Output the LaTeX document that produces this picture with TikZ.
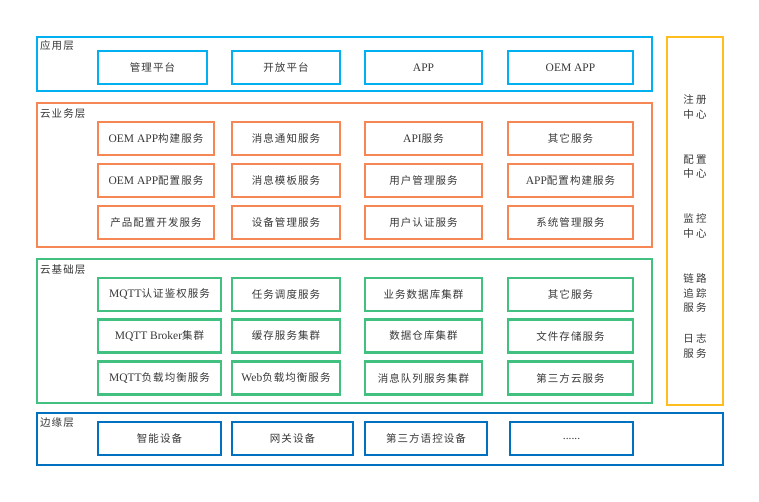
\documentclass[tikz,border=0pt]{standalone}
\usepackage{fontspec}
\setmainfont{Liberation Serif}
\newfontfamily\cjk[LetterSpace=10]{Noto Sans CJK SC}
\newfontfamily\cjkwide[LetterSpace=22]{Noto Sans CJK SC}
\usepackage{xcolor}
\usepackage{tikz}
\usetikzlibrary{positioning}
\definecolor{appblue}{RGB}{0,176,240}
\definecolor{bizorange}{RGB}{246,134,84}
\definecolor{basegreen}{RGB}{66,192,128}
\definecolor{edgeblue}{RGB}{0,112,192}
\definecolor{sidegold}{RGB}{255,190,30}
\definecolor{txtgray}{RGB}{55,55,55}
\newcommand\en[1]{{\rmfamily\fontsize{11.5}{13}\selectfont #1}}

\begin{document}
\begin{tikzpicture}[
  x=1pt,y=-1pt,
  layer/.style={draw=#1,line width=2.4pt,anchor=north west,inner sep=0pt},
  box/.style={draw=#1,line width=2.4pt,minimum height=33pt,inner sep=0pt,
    text=txtgray,font=\cjk\fontsize{10.5}{12}\selectfont},
  lbl/.style={anchor=west,inner sep=0pt,text=txtgray,font=\cjk\fontsize{10.5}{12}\selectfont},
  side/.style={align=center,inner sep=0pt,text=txtgray,font=\cjkwide\fontsize{10.5}{14.5}\selectfont}
]
\useasboundingbox (0,0) rectangle (759,501);

% layers
\node[layer=appblue,minimum width=615pt,minimum height=54pt] (app) at (36,36) {};
\node[layer=bizorange,minimum width=615pt,minimum height=144pt] (biz) at (36,102) {};
\node[layer=basegreen,minimum width=615pt,minimum height=144pt] (base) at (36,258) {};
\node[layer=edgeblue,minimum width=686pt,minimum height=52pt] (edge) at (36,412) {};
\node[layer=sidegold,minimum width=56pt,minimum height=368pt] (side) at (666,36) {};

\node[lbl] (applbl) at (40,46) {应用层};
\node[lbl] (bizlbl) at (40,114) {云业务层};
\node[lbl] (baselbl) at (40,270) {云基础层};
\node[lbl] (edgelbl) at (40,423) {边缘层};

% application layer
\node[box=appblue,minimum width=109pt] (mgmt) at (152.5,67.5) {管理平台};
\node[box=appblue,minimum width=108pt] (open) at (286,67.5) {开放平台};
\node[box=appblue,minimum width=117pt] (appl) at (423.5,67.5) {\en{APP}};
\node[box=appblue,minimum width=125pt] (oemapp) at (570.5,67.5) {\en{OEM APP}};

% cloud business layer
\node[box=bizorange,minimum width=116pt] (oembuild) at (156,138.5) {\en{OEM APP}构建服务};
\node[box=bizorange,minimum width=108pt] (msgnotify) at (286,138.5) {消息通知服务};
\node[box=bizorange,minimum width=117pt] (api) at (423.5,138.5) {\en{API}服务};
\node[box=bizorange,minimum width=125pt] (bizother) at (570.5,138.5) {其它服务};
\node[box=bizorange,minimum width=116pt] (oemconf) at (156,180.5) {\en{OEM APP}配置服务};
\node[box=bizorange,minimum width=108pt] (msgtpl) at (286,180.5) {消息模板服务};
\node[box=bizorange,minimum width=117pt] (usermgmt) at (423.5,180.5) {用户管理服务};
\node[box=bizorange,minimum width=125pt] (appconf) at (570.5,180.5) {\en{APP}配置构建服务};
\node[box=bizorange,minimum width=116pt] (prodconf) at (156,222.5) {产品配置开发服务};
\node[box=bizorange,minimum width=108pt] (devmgmt) at (286,222.5) {设备管理服务};
\node[box=bizorange,minimum width=117pt] (userauth) at (423.5,222.5) {用户认证服务};
\node[box=bizorange,minimum width=125pt] (sysmgmt) at (570.5,222.5) {系统管理服务};

% cloud base layer
\node[box=basegreen,minimum width=123pt] (mqttauth) at (159.5,294.5) {\en{MQTT}认证鉴权服务};
\node[box=basegreen,minimum width=108pt] (sched) at (286,294.5) {任务调度服务};
\node[box=basegreen,minimum width=117pt] (bizdb) at (423.5,294.5) {业务数据库集群};
\node[box=basegreen,minimum width=125pt] (baseother) at (570.5,294.5) {其它服务};
\node[box=basegreen,minimum width=123pt] (broker) at (159.5,336) {\en{MQTT Broker}集群};
\node[box=basegreen,minimum width=108pt] (cache) at (286,336) {缓存服务集群};
\node[box=basegreen,minimum width=117pt] (dwh) at (423.5,336) {数据仓库集群};
\node[box=basegreen,minimum width=125pt] (filestore) at (570.5,336) {文件存储服务};
\node[box=basegreen,minimum width=123pt] (mqttlb) at (159.5,378) {\en{MQTT}负载均衡服务};
\node[box=basegreen,minimum width=108pt] (weblb) at (286,378) {\en{Web}负载均衡服务};
\node[box=basegreen,minimum width=117pt] (mq) at (423.5,378) {消息队列服务集群};
\node[box=basegreen,minimum width=125pt] (thirdcloud) at (570.5,378) {第三方云服务};

% edge layer
\node[box=edgeblue,minimum width=123pt] (smartdev) at (159.5,438.5) {智能设备};
\node[box=edgeblue,minimum width=121pt] (gateway) at (292.5,438.5) {网关设备};
\node[box=edgeblue,minimum width=122pt] (voicedev) at (426,438.5) {第三方语控设备};
\node[box=edgeblue,minimum width=123pt] (moredev) at (571.5,438.5) {\en{......}};

% side column
\node[side] (registry) at (695,107) {注册\\中心};
\node[side] (config) at (695,166.5) {配置\\中心};
\node[side] (monitor) at (695,226) {监控\\中心};
\node[side] (tracing) at (695,293) {链路\\追踪\\服务};
\node[side] (logging) at (695,346) {日志\\服务};
\end{tikzpicture}
\end{document}
